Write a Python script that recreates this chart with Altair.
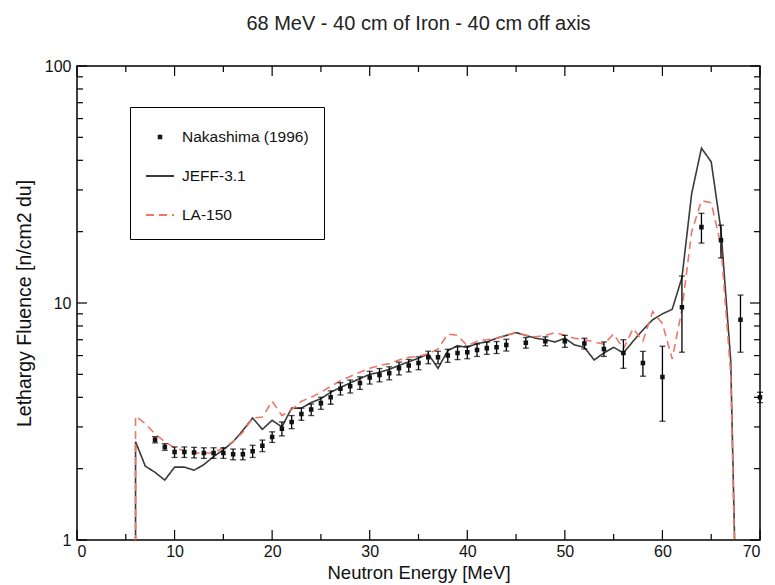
import altair as alt
import pandas as pd

TITLE = "68 MeV - 40 cm of Iron - 40 cm off axis"
X_TITLE = "Neutron Energy [MeV]"
Y_TITLE = "Lethargy Fluence [n/cm2 du]"
SERIES = ["Nakashima (1996)", "JEFF-3.1", "LA-150"]
COLORS = ["#111111", "#3a3a3a", "#ee7766"]

# Experimental data (Nakashima 1996)
exp_E = [8, 9, 10, 11, 12, 13, 14, 15, 16, 17, 18, 19, 20, 21, 22, 23, 24, 25,
         26, 27, 28, 29, 30, 31, 32, 33, 34, 35, 36, 37, 38, 39, 40, 41, 42, 43,
         44, 46, 48, 50, 52, 54, 56, 58, 60, 62, 64, 66, 68, 70]
exp_val = [2.65, 2.47, 2.35, 2.35, 2.34, 2.33, 2.33, 2.33, 2.3, 2.3, 2.37, 2.5,
           2.72, 2.95, 3.15, 3.4, 3.55, 3.78, 4.0, 4.35, 4.45, 4.6, 4.85, 4.97,
           5.06, 5.3, 5.45, 5.58, 5.9, 5.9, 6.0, 6.15, 6.2, 6.33, 6.45, 6.5,
           6.65, 6.8, 6.9, 6.9, 6.75, 6.4, 6.15, 5.58, 4.87, 9.6, 20.9, 18.4,
           8.5, 4.0]
exp_err = [0.08, 0.08, 0.12, 0.12, 0.12, 0.12, 0.12, 0.12, 0.12, 0.12, 0.14, 0.14,
           0.14, 0.2, 0.2, 0.2, 0.2, 0.22, 0.26, 0.26, 0.28, 0.28, 0.3, 0.32,
           0.32, 0.33, 0.33, 0.35, 0.36, 0.36, 0.38, 0.38, 0.38, 0.38, 0.38, 0.38,
           0.38, 0.35, 0.3, 0.4, 0.35, 0.45, 0.85, 0.67, 1.7, 3.4, 3.0, 2.9,
           2.3, 0.2]

# Calculations, 1 MeV grid (first point is the vertical rise at the source cut-off)
calc_E = [6, 6, 7, 8, 9, 10, 11, 12, 13, 14, 15, 16, 17, 18, 19, 20, 21, 22, 23,
          24, 25, 26, 27, 28, 29, 30, 31, 32, 33, 34, 35, 36, 37, 38, 39, 40, 41,
          42, 43, 44, 45, 46, 47, 48, 49, 50, 51, 52, 53, 54, 55, 56, 57, 58, 59,
          60, 61, 62, 63, 64, 65, 66, 67, 68]
jeff_val = [0.1, 2.6, 2.05, 1.93, 1.79, 2.03, 2.03, 1.97, 2.08, 2.25, 2.4, 2.6,
            2.9, 3.27, 2.93, 3.2, 3.0, 3.6, 3.6, 3.8, 3.95, 4.2, 4.4, 4.6, 4.8,
            5.0, 5.1, 5.25, 5.45, 5.65, 5.85, 6.1, 5.3, 6.3, 6.6, 6.5, 6.75,
            6.85, 7.1, 7.3, 7.5, 7.3, 7.1, 7.0, 6.85, 7.1, 6.65, 6.5, 5.75,
            6.15, 6.5, 6.15, 6.9, 7.7, 8.5, 9.0, 9.4, 12.8, 29.0, 45.0, 39.4,
            20.3, 5.7, 0.07]
la_val = [0.1, 3.33, 3.1, 2.8, 2.6, 2.45, 2.38, 2.33, 2.33, 2.33, 2.45, 2.6,
          2.85, 3.27, 3.3, 3.85, 3.35, 3.55, 3.85, 4.0, 4.2, 4.45, 4.7, 4.9,
          5.1, 5.3, 5.45, 5.55, 5.75, 5.9, 5.95, 6.1, 6.4, 7.4, 7.3, 6.6, 6.9,
          7.0, 7.1, 7.3, 7.5, 7.3, 7.2, 7.3, 7.5, 7.3, 7.1, 7.0, 6.85, 6.7,
          7.4, 6.4, 7.8, 6.9, 9.2, 8.2, 5.8, 9.4, 20.0, 27.0, 26.5, 17.5,
          5.0, 0.07]

# Axis ticks
x_major = [0, 10, 20, 30, 40, 50, 60, 70]
x_minor = [5, 15, 25, 35, 45, 55, 65]
y_major = [1, 10, 100]
y_minor = [2, 3, 4, 5, 6, 7, 8, 9, 20, 30, 40, 50, 60, 70, 80, 90]

W, H = 683, 474
MAJ, MIN = 10, 6

exp_df = pd.DataFrame({
    "E": exp_E, "v": exp_val,
    "lo": [v - e for v, e in zip(exp_val, exp_err)],
    "hi": [v + e for v, e in zip(exp_val, exp_err)],
    "series": SERIES[0],
})
calc_df = pd.concat([
    pd.DataFrame({"E": calc_E, "v": jeff_val, "series": SERIES[1],
                  "idx": list(range(len(calc_E)))}),
    pd.DataFrame({"E": calc_E, "v": la_val, "series": SERIES[2],
                  "idx": list(range(len(calc_E)))}),
])

xs = alt.Scale(domain=[0, 70], nice=False)
ys = alt.Scale(type="log", domain=[1, 100], nice=False)

legend = alt.Legend(title=None, orient="none", legendX=53, legendY=41,
                    strokeColor="black", fillColor="white", padding=15,
                    labelFontSize=15.5, labelColor="#111", labelOffset=7,
                    symbolSize=784, symbolStrokeWidth=2, rowPadding=15)

color_scale = alt.Scale(domain=SERIES, range=COLORS)
dash_scale = alt.Scale(domain=SERIES, range=[[1, 0], [1, 0], [8, 5]])
square = "M-0.09,-0.09H0.09V0.09H-0.09Z"
shape_scale = alt.Scale(domain=SERIES, range=[square, "stroke", "stroke"])

x_axis = alt.Axis(values=x_major, ticks=False, domain=False, grid=False, labelFontSize=16,
                  labelColor="#111", labelPadding=3, title=X_TITLE, titleFontSize=18.5,
                  titleFontWeight="normal", titleColor="#111", titlePadding=4)
y_axis = alt.Axis(values=y_major, ticks=False, domain=False, grid=False, labelFontSize=16,
                  labelColor="#111", labelPadding=6, format="d", title=Y_TITLE,
                  titleFontSize=19.5, titleFontWeight="normal", titleColor="#111",
                  titlePadding=10)


def X(f):
    return alt.X(f, scale=xs, axis=x_axis, title=X_TITLE)


def Y(f):
    return alt.Y(f, scale=ys, axis=y_axis, title=Y_TITLE)


lines = alt.Chart(calc_df).mark_line(clip=True, strokeWidth=1.6).encode(
    x=X("E:Q"),
    y=Y("v:Q"),
    color=alt.Color("series:N", scale=color_scale, legend=legend),
    strokeDash=alt.StrokeDash("series:N", scale=dash_scale, legend=legend),
    order=alt.Order("idx:Q"),
    detail="series:N",
)

base = alt.Chart(exp_df)
bars = base.mark_rule(color="black", strokeWidth=1.3).encode(
    x=X("E:Q"), y=Y("lo:Q"), y2="hi:Q")
cap_lo = base.mark_tick(orient="horizontal", size=6, thickness=1.3, color="black").encode(
    x=X("E:Q"), y=Y("lo:Q"))
cap_hi = base.mark_tick(orient="horizontal", size=6, thickness=1.3, color="black").encode(
    x=X("E:Q"), y=Y("hi:Q"))
points = base.mark_point(filled=False, size=784, strokeWidth=2, opacity=1).encode(
    x=X("E:Q"),
    y=Y("v:Q"),
    color=alt.Color("series:N", scale=color_scale, legend=legend),
    shape=alt.Shape("series:N", scale=shape_scale, legend=legend),
    strokeDash=alt.StrokeDash("series:N", scale=dash_scale, legend=legend),
)


def xticks(vals, y0, y1):
    return alt.Chart(pd.DataFrame({"t": vals})).mark_rule(color="black", strokeWidth=1.2).encode(
        x=X("t:Q"), y=alt.value(y0), y2=alt.value(y1))


def yticks(vals, x0, x1):
    return alt.Chart(pd.DataFrame({"t": vals})).mark_rule(color="black", strokeWidth=1.2).encode(
        y=Y("t:Q"), x=alt.value(x0), x2=alt.value(x1))


ticks = [
    xticks(x_major, H, H - MAJ), xticks(x_minor, H, H - MIN),
    xticks(x_major, 0, MAJ), xticks(x_minor, 0, MIN),
    yticks(y_major, 0, MAJ), yticks(y_minor, 0, MIN),
    yticks(y_major, W, W - MAJ), yticks(y_minor, W, W - MIN),
]

chart = alt.layer(lines, bars, cap_lo, cap_hi, points, *ticks).properties(
    width=W, height=H,
    title=alt.Title(TITLE, fontSize=20, fontWeight="normal", color="#222", offset=24),
    autosize=alt.AutoSizeParams(type="none"),
    padding={"left": 77, "top": 66, "right": 15, "bottom": 45},
).configure(font="Liberation Sans").configure_view(stroke="black", strokeWidth=1.5)

chart.save("out.html", embed_options={"renderer": "svg", "actions": False})
